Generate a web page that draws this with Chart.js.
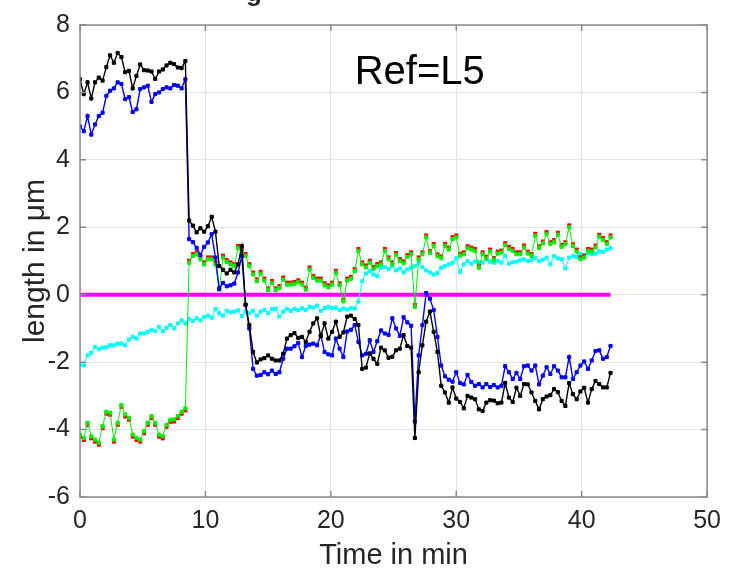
<!DOCTYPE html>
<html>
<head>
<meta charset="utf-8">
<script src="https://cdn.jsdelivr.net/npm/chart.js@4"></script>
<style>
  html, body { margin: 0; padding: 0; background: #fff; }
  #wrap { width: 730px; height: 576px; }
</style>
</head>
<body>
<div id="wrap"><canvas id="lengths" width="730" height="576"></canvas></div>
<script>
// sampling step of the recording, in minutes
const dt = 0.3;

const black = [
  6.39, 5.95, 6.3, 5.82, 6.3, 6.44, 6.35, 6.75, 7.1, 6.88,
  7.17, 7.05, 6.6, 6.64, 6.12, 6.49, 6.83, 6.66, 6.65, 6.62,
  6.4, 6.62, 6.68, 6.8, 6.88, 6.84, 6.74, 6.72, 6.93, 2.2,
  2.05, 1.85, 1.97, 1.87, 2.03, 2.31, 1.87, 0.85, 0.74, 0.63,
  0.74, 0.66, 0.9, 1.44, -0.3, -0.9, -1.7, -2.01, -1.92, -1.88,
  -1.8, -1.9, -1.95, -1.95, -1.75, -1.3, -1.2, -1.14, -1.28, -1.25,
  -1.4, -1.1, -0.85, -0.7, -1.23, -0.85, -1.3, -1.1, -0.8, -1.25,
  -1.12, -0.65, -0.62, -0.72, -0.9, -2.2, -2.16, -1.74, -1.9, -2.05,
  -1.57, -1.65, -1.87, -1.84, -1.65, -1.6, -1.2, -1.52, -1.57, -4.25,
  -2.3, -1.5, -0.8, -0.5, -1.1, -1.7, -2.7, -2.9, -3.2, -2.75,
  -3.08, -3.18, -3.37, -3.0, -3.05, -3.1, -3.4, -3.45, -3.2, -3.13,
  -3.14, -3.22, -3.2, -2.62, -3.05, -3.18, -2.76, -3.0, -2.65, -2.66,
  -2.9, -3.15, -3.4, -3.1, -3.02, -2.98, -2.8, -2.89, -3.15, -3.3,
  -2.62, -2.95, -3.1, -2.87, -2.76, -3.2, -2.8, -2.56, -2.65, -2.75,
  -2.75, -2.32
];

const blue = [
  4.99, 4.85, 5.3, 4.75, 5.05, 5.3, 5.4, 5.9, 6.05, 6.12,
  6.3, 6.25, 5.8, 5.86, 5.42, 5.5, 6.1, 6.15, 6.2, 5.72,
  5.95, 6.0, 6.1, 6.15, 6.12, 6.22, 6.2, 6.12, 6.39, 1.65,
  1.56, 1.39, 1.18, 1.42, 1.55, 1.8, 1.1, 0.17, 0.35, 0.25,
  0.28, 0.33, 0.66, 1.15, -0.3, -1.0, -2.2, -2.4, -2.38, -2.3,
  -2.36, -2.25, -2.35, -2.3, -1.9, -1.6, -1.6, -1.53, -1.43, -1.85,
  -1.52, -1.48, -1.45, -1.5, -1.2, -1.7, -1.77, -1.8, -1.3, -1.6,
  -1.85, -1.09, -1.04, -0.9, -1.4, -1.8, -1.75, -1.35, -1.7, -1.38,
  -1.06, -1.15, -1.19, -0.7, -1.0, -1.22, -0.67, -0.82, -0.92, -3.76,
  -1.8, -0.9, 0.05, -0.12, -0.45, -1.25, -2.1, -2.42, -2.52, -2.58,
  -2.3, -2.62, -2.66, -2.38, -2.59, -2.7, -2.65, -2.75, -2.65, -2.74,
  -2.68, -2.75, -2.7, -2.12, -2.3, -2.5, -2.32, -2.5, -2.12, -2.1,
  -2.25, -2.1, -2.66, -2.4, -2.15, -2.35, -2.12, -2.25, -2.45, -2.45,
  -1.85, -2.5, -2.3, -2.1, -1.98, -2.2, -1.95, -1.67, -1.65, -1.9,
  -1.85, -1.52
];

const green = [
  -4.15, -4.25, -3.8, -4.2, -4.3, -4.39, -3.9, -3.47, -3.5, -4.3,
  -3.8, -3.27, -3.55, -3.65, -4.15, -4.25, -4.3, -4.05, -3.8, -3.6,
  -3.8, -4.15, -4.2, -3.86, -3.71, -3.7, -3.6, -3.47, -3.37, 0.95,
  1.15, 1.2, 1.05, 0.9, 1.05, 1.05, 0.9, 0.15, 1.1, 0.97,
  0.9, 0.85, 1.39, 1.28, 1.15, 0.85, 0.6, 0.4, 0.62, 0.42,
  0.13, 0.35, 0.13, 0.2, 0.45, 0.3, 0.3, 0.32, 0.37, 0.3,
  0.15, 0.75, 0.5, 0.42, 0.42, 0.28, 0.22, 0.3, 0.65, 0.28,
  -0.2, 0.42, 0.47, 0.7, 1.3, 0.9, 0.81, 0.95, 0.77, 0.85,
  0.9, 1.3, 1.05, 0.9, 1.18, 1.0, 0.93, 1.12, 1.2, -0.36,
  1.05, 1.2, 1.7, 1.24, 1.45, 1.14, 1.08, 1.45, 1.34, 1.65,
  1.7, 1.16, 1.2, 1.38, 1.34, 1.3, 0.8, 1.2, 1.07, 1.28,
  1.03, 1.22, 1.25, 1.47, 1.36, 1.3, 1.2, 1.2, 1.4, 1.22,
  1.15, 1.75, 1.38, 1.52, 1.8, 1.5, 1.56, 1.78, 1.42, 1.5,
  2.0, 1.44, 1.28, 1.05, 1.1, 1.3, 1.28, 1.4, 1.72, 1.62,
  1.5, 1.7
];

const cyan = [
  -2.06, -2.1, -1.8, -1.72, -1.55, -1.62, -1.57, -1.56, -1.5, -1.5,
  -1.45, -1.45, -1.5, -1.33, -1.25, -1.3, -1.15, -1.15, -1.1, -1.04,
  -1.08, -0.95, -1.08, -0.98, -0.9, -1.0, -0.85, -0.76, -0.85, -0.72,
  -0.78, -0.7, -0.76, -0.66, -0.62, -0.68, -0.43, -0.55, -0.62, -0.48,
  -0.52, -0.5, -0.46, -0.63, -0.5, -0.55, -0.48, -0.62, -0.5, -0.45,
  -0.55, -0.42, -0.42, -0.65, -0.5, -0.42, -0.48, -0.42, -0.46, -0.4,
  -0.45, -0.36, -0.38, -0.32, -0.48, -0.4, -0.36, -0.4, -0.38, -0.46,
  -0.41, -0.44, -0.4, -0.41, -0.2, 0.4, 0.63, 0.7, 0.6, 0.55,
  0.8, 0.82, 0.76, 0.85, 0.72, 0.78, 0.66, 0.75, 0.8, 0.85,
  0.95, 0.82, 0.72, 0.66, 0.6, 0.65, 0.8, 0.85, 0.9, 0.95,
  1.08, 0.68, 0.9, 1.0, 0.92, 0.98, 0.96, 0.95, 1.05, 0.98,
  0.95, 1.0, 0.95, 1.15, 0.92, 0.96, 0.98, 1.02, 1.05, 1.0,
  1.02, 1.1, 1.0, 1.04, 1.1, 0.9, 1.15, 1.08, 1.05, 0.78,
  1.1, 1.15, 1.12, 1.2, 1.18, 1.24, 1.2, 1.22, 1.29, 1.27,
  1.34, 1.38
];

// reference line (length 0) drawn over the whole recording
const refTimes = [0, 42.3];
const refLine = [0, 0];

const xTicks = [0, 10, 20, 30, 40, 50];
const yTicks = [-6, -4, -2, 0, 2, 4, 6, 8];

const time = black.map((_, i) => +(i * dt).toFixed(2));
const pts = vals => vals.map((v, i) => ({x: time[i], y: v}));

// red marks sit just under / over the green ones
function redMark(shiftUp) {
  const c = document.createElement('canvas');
  c.width = 6; c.height = 10;
  const g = c.getContext('2d');
  g.fillStyle = '#ff0000';
  g.fillRect(1, shiftUp ? 1 : 5, 4, 4);
  return c;
}
const redLow = redMark(false);
const redHigh = redMark(true);

const FONT = '"Liberation Sans", Arial, sans-serif';
const AXIS = '#8a8a8a';

const boxPlugin = {
  id: 'box',
  afterDraw(chart) {
    const {ctx, chartArea: a, scales: {x, y}} = chart;
    ctx.save();
    ctx.strokeStyle = AXIS;
    ctx.lineWidth = 1.5;
    ctx.beginPath();
    xTicks.forEach(t => {
      const px = x.getPixelForValue(t);
      ctx.moveTo(px, a.bottom); ctx.lineTo(px, a.bottom - 6);
      ctx.moveTo(px, a.top); ctx.lineTo(px, a.top + 6);
    });
    yTicks.forEach(t => {
      const py = y.getPixelForValue(t);
      ctx.moveTo(a.left, py); ctx.lineTo(a.left + 6, py);
      ctx.moveTo(a.right, py); ctx.lineTo(a.right - 6, py);
    });
    ctx.stroke();
    ctx.strokeRect(a.left, a.top, a.right - a.left, a.bottom - a.top);

    ctx.fillStyle = '#000';
    ctx.font = '40px ' + FONT;
    ctx.textAlign = 'left';
    ctx.textBaseline = 'alphabetic';
    ctx.fillText('Ref=L5', x.getPixelForValue(21.9), y.getPixelForValue(6.26));

    // clipped title above the axes, only the descender shows
    ctx.fillStyle = '#262626';
    ctx.font = 'bold 26px ' + FONT;
    ctx.textAlign = 'center';
    ctx.fillText('g', 254, 1);
    ctx.restore();
  }
};

function lineSet(label, color, data, width) {
  return {
    label: label,
    data: data,
    borderColor: color,
    backgroundColor: color,
    borderWidth: width,
    pointStyle: 'rect',
    pointRadius: 2.2,
    pointBorderWidth: 1,
    pointBorderColor: color,
    pointBackgroundColor: color,
    tension: 0
  };
}

const ctx = document.getElementById('lengths').getContext('2d');
const chart = new Chart(ctx, {
  type: 'line',
  data: {
    datasets: [
      lineSet('L1', '#000000', pts(black), 1.4),
      lineSet('L2', '#0000ff', pts(blue), 1.4),
      lineSet('L3', '#00ee00', pts(green), 1),
      {
        label: 'L3 raw',
        data: pts(green),
        showLine: false,
        pointStyle: c => c.dataIndex <= 28 ? redLow : redHigh,
        pointRadius: 3
      },
      lineSet('L4', '#00ffff', pts(cyan), 1),
      {
        label: 'L5',
        data: refTimes.map((t, i) => ({x: t, y: refLine[i]})),
        borderColor: '#ff00ff',
        borderWidth: 4,
        pointRadius: 0
      }
    ]
  },
  options: {
    responsive: false,
    animation: false,
    layout: {padding: {left: 0, right: 18, top: 17, bottom: 0}},
    plugins: {legend: {display: false}, tooltip: {enabled: false}},
    scales: {
      x: {
        type: 'linear',
        min: 0, max: 50,
        afterFit: s => { s.height = 79; },
        afterBuildTicks: s => { s.ticks = xTicks.map(v => ({value: v})); },
        grid: {color: '#e3e3e3', drawTicks: false},
        border: {display: false},
        ticks: {color: '#262626', font: {family: FONT, size: 25}, padding: 9, maxRotation: 0},
        title: {display: true, text: 'Time in min', color: '#262626',
                font: {family: FONT, size: 29}, padding: {bottom: 3}}
      },
      y: {
        type: 'linear',
        min: -6, max: 8,
        afterFit: s => { s.width = 80; },
        afterBuildTicks: s => { s.ticks = yTicks.map(v => ({value: v})); },
        grid: {color: '#e3e3e3', drawTicks: false},
        border: {display: false},
        ticks: {color: '#262626', font: {family: FONT, size: 25}, padding: 10},
        title: {display: true, text: 'length in μm', color: '#262626',
                font: {family: FONT, size: 30}, padding: {top: 18}}
      }
    }
  },
  plugins: [boxPlugin]
});
</script>
</body>
</html>
